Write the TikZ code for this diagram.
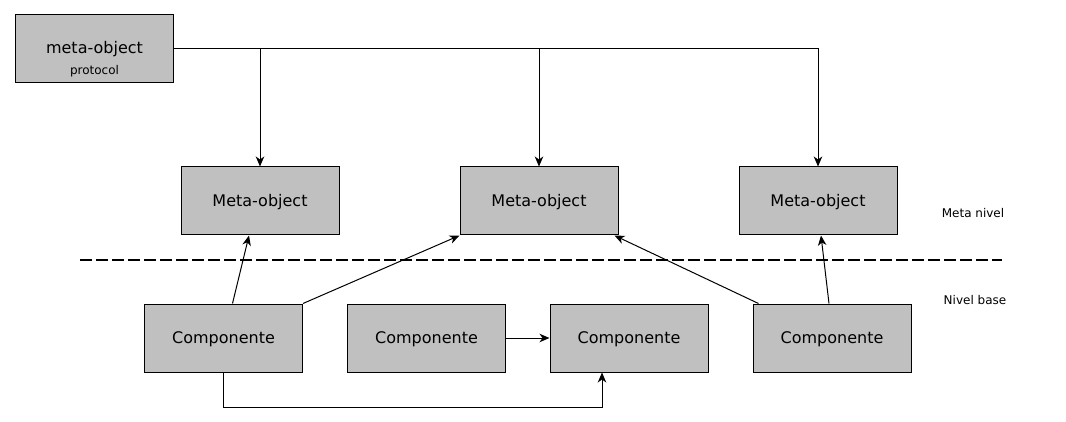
\documentclass[tikz,border=0pt]{standalone}
\usepackage{fontspec}
\setmainfont{DejaVu Sans}
\usetikzlibrary{arrows.meta,calc}
\definecolor{boxgray}{RGB}{192,192,192}
\begin{document}
\begin{tikzpicture}[x=1pt,y=-1pt,
  box/.style={draw=black,line width=1pt,fill=boxgray,minimum width=158pt,minimum height=68pt,inner sep=0pt,text height=11.7pt,text depth=0pt,font=\fontsize{16}{19}\selectfont},
  conn/.style={line width=1pt,-{Stealth[length=10pt,width=8.5pt,inset=3pt]}},
  small/.style={font=\fontsize{12}{14}\selectfont,inner sep=0pt}]
\useasboundingbox[fill=white] (0,0) rectangle (1066,422);
\node[box] (mop) at (94.5,49) {};
\node[inner sep=0pt,font=\fontsize{16}{19}\selectfont] (mopt) at (94.5,49.5) {meta-object};
\node[small] (mops) at (94.5,71) {protocol};
\node[box] (m1) at (260,201) {Meta-object};
\node[box] (m2) at (539,201) {Meta-object};
\node[box] (m3) at (818,201) {Meta-object};
\node[box] (c1) at (223.5,338) {Componente};
\node[box] (c2) at (426.5,338) {Componente};
\node[box] (c3) at (629,338) {Componente};
\node[box] (c4) at (832,338) {Componente};
\node[small] (ln1) at (973,213.5) {Meta nivel};
\node[small] (ln2) at (975,300.5) {Nivel base};
\coordinate (dl) at (80,260);
\coordinate (dr) at (1002,260);
\draw[line width=2pt,dash pattern=on 12pt off 4pt] (dl) -- (dr);
\draw[conn] (mop.east) -| (m3.north);
\draw[conn] (m1.north |- mop.east) -- (m1.north);
\draw[conn] (m2.north |- mop.east) -- (m2.north);
\draw[conn] ($(c1.north)+(9,0)$) -- ($(m1.south)+(-11,0)$);
\draw[conn] (c1.north east) -- (m2.south west);
\draw[conn] ($(c4.north west)+(6,0)$) -- ($(m2.south east)+(-4,0)$);
\draw[conn] ($(c4.north)+(-3,0)$) -- ($(m3.south)+(3,0)$);
\draw[conn] (c2.east) -- (c3.west);
\draw[conn] (c1.south) -- ++(0,35) -| ($(c3.south)+(-27,0)$);
\end{tikzpicture}
\end{document}
